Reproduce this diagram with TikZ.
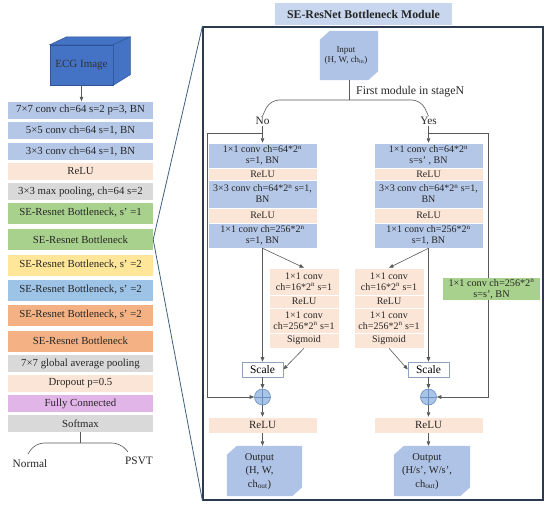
\documentclass[tikz,border=0pt]{standalone}
\usepackage{fontspec}
\setmainfont{Liberation Serif}
\usetikzlibrary{arrows.meta,backgrounds}
\definecolor{cblue}{HTML}{B4C7E7}
\definecolor{cpeach}{HTML}{FBE5D6}
\definecolor{cgray}{HTML}{D9D9D9}
\definecolor{cgreen}{HTML}{A9D18E}
\definecolor{cyellow}{HTML}{FFE699}
\definecolor{cmblue}{HTML}{9DC3E6}
\definecolor{corange}{HTML}{F4B183}
\definecolor{cpink}{HTML}{E2B5E8}
\definecolor{cecg}{HTML}{4472C4}
\definecolor{cecgd}{HTML}{2F5597}
\definecolor{cio}{HTML}{AFC3E6}
\definecolor{ctitle}{HTML}{C9D7EE}
\definecolor{lineg}{HTML}{595959}
\definecolor{framec}{HTML}{2B3A4E}
\definecolor{fanc}{HTML}{3F5F80}
\definecolor{scaleb}{HTML}{8FA3C0}
\definecolor{plusb}{HTML}{6C8EBF}
\definecolor{cplus}{HTML}{A8C4E8}
\newcommand{\cubeoutline}[2]{%
  \fill[#2] ([yshift=-9pt]#1.north west) -- ([xshift=10pt]#1.north west) -- (#1.north east)
   -- ([yshift=9pt]#1.south east) -- ([xshift=-10pt]#1.south east) -- (#1.south west) -- cycle;}
\begin{document}
\begin{tikzpicture}[x=1pt,y=-1pt,
  arr/.style={draw=lineg, line width=0.6pt, -{Triangle[length=4.5pt,width=3.6pt]}},
  ln/.style={draw=lineg, line width=0.6pt},
  lbox/.style={rectangle, inner sep=0pt, minimum width=145pt, minimum height=17pt, font=\fontsize{10.8}{12}\selectfont, text=black!85},
  sebig/.style={lbox, minimum height=21pt},
  rbox/.style={rectangle, inner sep=0pt, minimum width=109pt, align=center, font=\fontsize{10}{11}\selectfont, draw=white, line width=0.5pt, text=black!85},
  sebox/.style={rbox, minimum width=70pt, fill=cpeach},
  scalebox/.style={draw=scaleb, fill=white, line width=0.6pt, minimum width=41pt, minimum height=15pt, inner sep=0pt, font=\fontsize{11.5}{12}\selectfont},
  plus/.style={circle, draw=plusb, fill=cplus, line width=0.6pt, minimum size=16pt, inner sep=0pt,
     path picture={\draw[plusb, line width=0.6pt] (path picture bounding box.north) -- (path picture bounding box.south) (path picture bounding box.west) -- (path picture bounding box.east);}},
  iobox/.style={inner sep=0pt, align=center, text=black!85},
  lbl/.style={inner sep=1pt, font=\fontsize{11.3}{12}\selectfont, text=black!85},
  fan/.style={draw=fanc, line width=0.8pt}
]
\useasboundingbox (0,0) rectangle (550,507);

% ---------------- left column ----------------
\node[draw=cecgd, fill=cecg, line width=0.5pt, minimum width=63pt, minimum height=40pt, inner sep=0pt,
      font=\fontsize{11}{12}\selectfont, text=black!80] (ecg) at (81.5,65) {ECG Image};
\fill[cecg, draw=cecgd, line width=0.5pt] (ecg.north west) -- ++(17,-8) -- ++(63,0) -- (ecg.north east) -- cycle;
\fill[cecg, draw=cecgd, line width=0.5pt] (ecg.north east) -- ++(17,-8) -- ++(0,38) -- (ecg.south east) -- cycle;

\node[lbox, fill=cblue] (b1) at (80.5,110) {7×7 conv ch=64 s=2 p=3, BN};
\node[lbox, fill=cblue] (b2) at (80.5,130.5) {5×5 conv ch=64 s=1, BN};
\node[lbox, fill=cblue] (b3) at (80.5,151.5) {3×3 conv ch=64 s=1, BN};
\node[lbox, fill=cpeach] (b4) at (80.5,171.5) {ReLU};
\node[lbox, fill=cgray] (b5) at (80.5,191.5) {3×3 max pooling, ch=64 s=2};
\node[sebig, fill=cgreen] (b6) at (80.5,213) {SE-Resnet Bottleneck, s' =1};
\node[sebig, fill=cgreen] (b7) at (80.5,239.5) {SE-Resnet Bottleneck};
\node[sebig, fill=cyellow] (b8) at (80.5,265) {SE-Resnet Bottleneck, s' =2};
\node[sebig, fill=cmblue] (b9) at (80.5,290) {SE-Resnet Bottleneck, s' =2};
\node[sebig, fill=corange] (b10) at (80.5,315) {SE-Resnet Bottleneck, s' =2};
\node[sebig, fill=corange] (b11) at (80.5,341) {SE-Resnet Bottleneck};
\node[lbox, fill=cgray] (b12) at (80.5,363.5) {7×7 global average pooling};
\node[lbox, fill=cpeach] (b13) at (80.5,383.5) {Dropout p=0.5};
\node[lbox, fill=cpink] (b14) at (80.5,403.5) {Fully Connected};
\node[lbox, fill=cgray] (b15) at (80.5,423.5) {Softmax};

\draw[arr] (ecg.south) -- (ecg.south |- b1.north);

\node[lbl] (normal) at (30,464) {Normal};
\node[lbl] (psvt) at (139,461) {PSVT};
\coordinate (sm) at (80.5,443);
\coordinate (sl) at (28,454);
\coordinate (sr) at (128,452);
\draw[ln] (b15.south) -- (sm);
\draw[ln, rounded corners=9pt] (sl) -- (35,443) -- (121,443) -- (sr);

% ---------------- right panel ----------------
\node[draw=framec, line width=1.2pt, minimum width=340pt, minimum height=473pt, inner sep=0pt] (frame) at (373,263.5) {};
\node[fill=ctitle, minimum width=177pt, minimum height=22pt, inner sep=0pt,
      font=\bfseries\fontsize{11.8}{13}\selectfont, text=black!85] (title) at (363.5,14) {SE-ResNet Bottleneck Module};

\draw[fan] (b7.east) -- (frame.north west);
\draw[fan] (b7.east) -- (frame.south west);

% input
\node[iobox, minimum width=58pt, minimum height=49pt, font=\fontsize{9}{10.5}\selectfont] (in) at (349,55.5)
  {\hspace*{-6pt}\begin{tabular}{@{}c@{}}Input\\(H, W, ch\textsubscript{in})\end{tabular}};
\begin{pgfonlayer}{background}\cubeoutline{in}{cio}\end{pgfonlayer}

\node[lbl] (noL) at (262.5,121) {No};
\node[lbl] (yesL) at (428.5,121) {Yes};
\node[lbl, anchor=west, font=\fontsize{11.8}{13}\selectfont] (fm) at (355,92) {First module in stageN};
\coordinate (bsplit) at (349,100);
\draw[ln] (in.south) -- (bsplit);
\draw[ln, rounded corners=9pt] (noL.north) -- (270,100) -- (421,100) -- (yesL.north);

% No column
\node[rbox, fill=cblue, minimum height=25pt] (n1) at (262.5,155.5) {1×1 conv ch=64*2\textsuperscript{n}\\s=1, BN};
\node[rbox, fill=cpeach, minimum height=12pt] (n2) at (262.5,174) {ReLU};
\node[rbox, fill=cblue, minimum height=28pt] (n3) at (262.5,194) {3×3 conv ch=64*2\textsuperscript{n} s=1,\\BN};
\node[rbox, fill=cpeach, minimum height=15pt] (n4) at (262.5,215.5) {ReLU};
\node[rbox, fill=cblue, minimum height=25pt] (n5) at (262.5,235.5) {1×1 conv ch=256*2\textsuperscript{n}\\s=1, BN};

\node[sebox, minimum height=27pt] (ns1) at (304,281.5) {1×1 conv\\ch=16*2\textsuperscript{n} s=1};
\node[sebox, minimum height=13pt] (ns2) at (304,301.5) {ReLU};
\node[sebox, minimum height=25pt] (ns3) at (304,320.5) {1×1 conv\\ch=256*2\textsuperscript{n} s=1};
\node[sebox, minimum height=15pt] (ns4) at (304,340.5) {Sigmoid};

\node[scalebox] (nscale) at (262.5,369.5) {Scale};
\node[plus] (nplus) at (262.5,397) {};
\node[rbox, fill=cpeach, minimum height=16pt, font=\fontsize{11}{12}\selectfont] (nrelu) at (262.5,425) {ReLU};
\node[iobox, minimum width=75pt, minimum height=50pt, font=\fontsize{10.5}{13.5}\selectfont] (nout) at (264.5,471)
  {\hspace*{-10pt}\begin{tabular}{@{}c@{}}Output\\(H, W,\\ch\textsubscript{out})\end{tabular}};
\begin{pgfonlayer}{background}\cubeoutline{nout}{cio}\end{pgfonlayer}

% Yes column
\node[rbox, fill=cblue, minimum height=25pt] (y1) at (428.5,155.5) {1×1 conv ch=64*2\textsuperscript{n}\\s=s' , BN};
\node[rbox, fill=cpeach, minimum height=12pt] (y2) at (428.5,174) {ReLU};
\node[rbox, fill=cblue, minimum height=28pt] (y3) at (428.5,194) {3×3 conv ch=64*2\textsuperscript{n} s=1,\\BN};
\node[rbox, fill=cpeach, minimum height=15pt] (y4) at (428.5,215.5) {ReLU};
\node[rbox, fill=cblue, minimum height=25pt] (y5) at (428.5,235.5) {1×1 conv ch=256*2\textsuperscript{n}\\s=1, BN};

\node[sebox, minimum height=27pt] (ys1) at (389,281.5) {1×1 conv\\ch=16*2\textsuperscript{n} s=1};
\node[sebox, minimum height=13pt] (ys2) at (389,301.5) {ReLU};
\node[sebox, minimum height=25pt] (ys3) at (389,320.5) {1×1 conv\\ch=256*2\textsuperscript{n} s=1};
\node[sebox, minimum height=15pt] (ys4) at (389,340.5) {Sigmoid};

\node[scalebox] (yscale) at (428.5,369.5) {Scale};
\node[plus] (yplus) at (428.5,397) {};
\node[rbox, fill=cpeach, minimum height=16pt, font=\fontsize{11}{12}\selectfont] (yrelu) at (428.5,425) {ReLU};
\node[iobox, minimum width=76pt, minimum height=50pt, font=\fontsize{10.5}{13.5}\selectfont] (yout) at (432,471)
  {\hspace*{-10pt}\begin{tabular}{@{}c@{}}Output\\(H/s', W/s',\\ch\textsubscript{out})\end{tabular}};
\begin{pgfonlayer}{background}\cubeoutline{yout}{cio}\end{pgfonlayer}

% connectors No
\coordinate (nsplit) at (262.5,133);
\coordinate (nskip) at (207,133);
\draw[arr] (noL.south) -- (n1.north);
\draw[arr] (nsplit) -- (nskip) |- (nplus.west);
\draw[arr] (n5.south) -- (ns1.north);
\draw[arr] (n5.south) -- (nscale.north);
\draw[arr] (ns4.south) -- (nscale.east);
\draw[arr] (nscale.south) -- (nplus.north);
\draw[arr] (nplus.south) -- (nrelu.north);
\draw[arr] (nrelu.south) -- (nrelu.south |- nout.north);

% connectors Yes
\coordinate (ysplit) at (428.5,133);
\coordinate (yskip) at (488,133);
\draw[arr] (yesL.south) -- (y1.north);
\draw[arr] (ysplit) -- (yskip) |- (yplus.east);
\draw[arr] (y5.south) -- (ys1.north);
\draw[arr] (y5.south) -- (yscale.north);
\draw[arr] (ys4.south) -- (yscale.west);
\draw[arr] (yscale.south) -- (yplus.north);
\draw[arr] (yplus.south) -- (yrelu.north);
\draw[arr] (yrelu.south) -- (yrelu.south |- yout.north);

\node[rectangle, fill=cgreen, minimum width=97pt, minimum height=22pt, inner sep=0pt, align=center,
      font=\fontsize{10.2}{11}\selectfont, text=black!85] (proj) at (491.5,289) {1×1 conv ch=256*2\textsuperscript{n}\\s=s', BN};
\end{tikzpicture}
\end{document}
